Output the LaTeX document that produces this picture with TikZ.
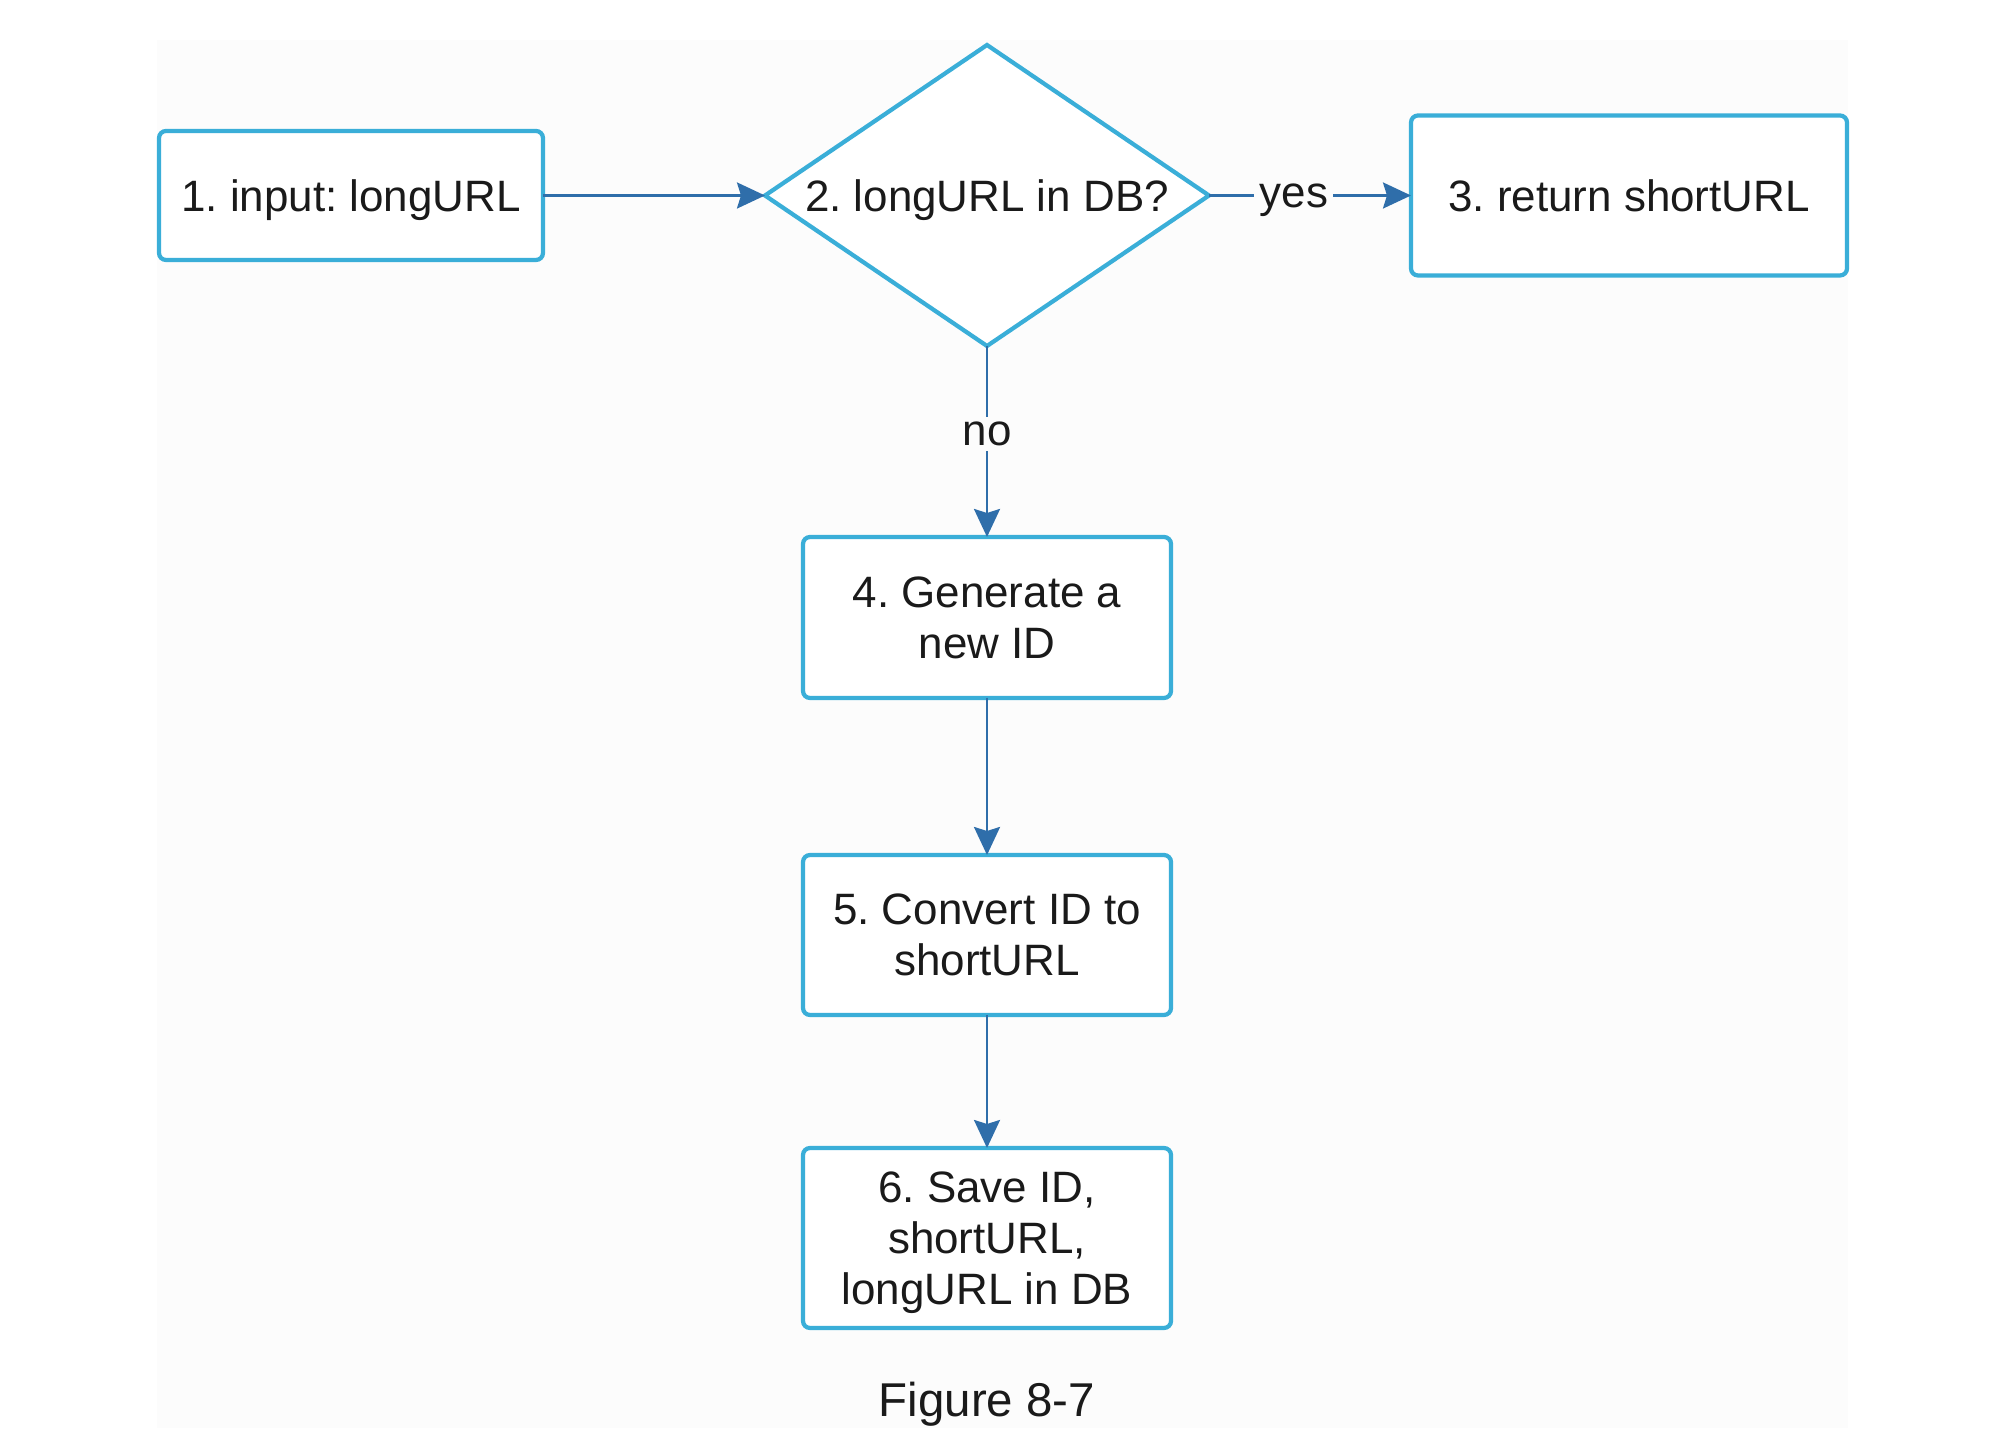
\documentclass[tikz,border=0pt]{standalone}
\usepackage{fontspec}
\setmainfont{Liberation Sans}
\usepackage{xcolor}
\usepackage{tikz}
\usetikzlibrary{arrows.meta, positioning, shapes.geometric}
\frenchspacing

\definecolor{boxblue}{HTML}{3AAED8}
\definecolor{arrowblue}{HTML}{2F6EAA}
\definecolor{paper}{HTML}{FCFCFC}
\definecolor{inktext}{HTML}{1A1A1A}

\begin{document}
\begin{tikzpicture}[
			box/.style={draw=boxblue, line width=1.2pt, rectangle, rounded corners=2pt, fill=white, text=inktext, align=center, text depth=0pt, outer sep=0pt, inner sep=2pt},
			decision/.style={draw=boxblue, line width=1.2pt, diamond, aspect=1.475, fill=white, text=inktext, text depth=0pt, inner sep=0pt, outer sep=0pt, minimum width=4.44cm, minimum height=3.01cm},
			arrow/.style={draw=arrowblue, line width=0.75pt, -{Stealth[length=0.28cm, width=0.26cm, inset=0.04cm]}},
			answer/.style={fill=paper, text=inktext, text depth=0pt, inner sep=1.5pt},
			font=\fontsize{12.5}{14.5}\selectfont
		]

		% Page and grey paper
		\useasboundingbox (0,0) rectangle (20,-14.56);
		\fill[paper] (1.57,-0.40) rectangle (18.48,-14.28);

		% Draw the boxes
		\node[box, minimum width=3.84cm, minimum height=1.29cm] (input) at (3.51,-1.955) {1. input: longURL};
		\node[decision, right=2.22cm of input] (indb) {2. longURL in DB?};
		\node[box, right=2.02cm of indb, minimum width=4.36cm, minimum height=1.60cm] (retshort) {3. return shortURL};
		\node[box, below=1.91cm of indb, minimum width=3.68cm, minimum height=1.61cm] (genid) {4. Generate a\\new ID};
		\node[box, below=1.57cm of genid, minimum width=3.68cm, minimum height=1.60cm] (convert) {5. Convert ID to\\shortURL};
		\node[box, below=1.33cm of convert, minimum width=3.68cm, minimum height=1.80cm] (save) {6. Save ID,\\shortURL,\\longURL in DB};
		\node[below=0.42cm of save, text=inktext, font=\fontsize{13.5}{16}\selectfont] (caption) {Figure 8-7};

		% Draw the arrows
		\draw[arrow] (input.east) -- (indb.west);
		\draw[arrow] (indb.east) -- node[answer, pos=0.42] {yes} (retshort.west);
		\draw[arrow] (indb.south) -- node[answer, pos=0.46] {no} (genid.north);
		\draw[arrow] (genid.south) -- (convert.north);
		\draw[arrow] (convert.south) -- (save.north);

		\end{tikzpicture}
\end{document}
